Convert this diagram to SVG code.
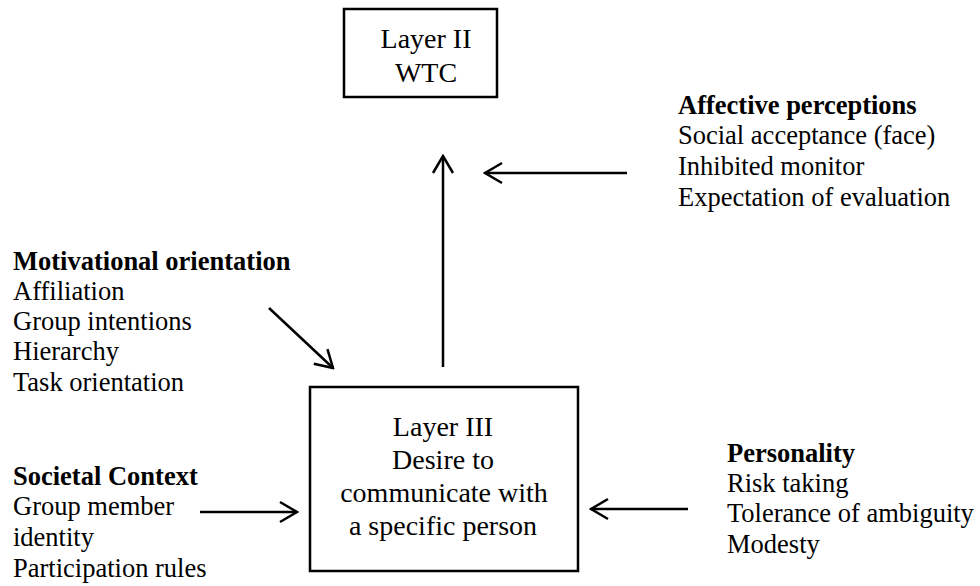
<svg xmlns="http://www.w3.org/2000/svg" width="980" height="586" viewBox="0 0 980 586">
<style>
text{font-family:"Liberation Serif","Times New Roman",serif;fill:#000}
.t{font-size:26.5px}
.b{font-size:26.5px;font-weight:bold}
.bx{font-size:28px;text-anchor:middle}
.box{fill:#fff;stroke:#000;stroke-width:2.5}
.c{stroke:#000;stroke-width:2.5;fill:none}
</style>
<defs>
<marker id="ah" viewBox="0 0 20 24" refX="18" refY="12" markerWidth="20" markerHeight="24" markerUnits="userSpaceOnUse" orient="auto">
<path d="M1,2 L18,12 L1,22" fill="none" stroke="#000" stroke-width="2.5"/>
</marker>
</defs>
<rect width="980" height="586" fill="#fff"/>
<g id="layer2">
<rect class="box" x="344" y="9" width="153" height="88"/>
<text class="bx" x="426" y="48">Layer II</text>
<text class="bx" x="426" y="82">WTC</text>
</g>
<g id="layer3">
<rect class="box" x="310" y="387" width="268" height="184"/>
<text class="bx" x="443" y="436">Layer III</text>
<text class="bx" x="443" y="469">Desire to</text>
<text class="bx" x="444" y="502">communicate with</text>
<text class="bx" x="443" y="535">a specific person</text>
</g>
<g id="affective">
<text class="b" x="678" y="114">Affective perceptions</text>
<text class="t" x="678" y="144">Social acceptance (face)</text>
<text class="t" x="678" y="175">Inhibited monitor</text>
<text class="t" x="678" y="206">Expectation of evaluation</text>
</g>
<g id="motivational">
<text class="b" x="13" y="270">Motivational orientation</text>
<text class="t" x="13" y="300">Affiliation</text>
<text class="t" x="13" y="330">Group intentions</text>
<text class="t" x="13" y="360">Hierarchy</text>
<text class="t" x="13" y="391">Task orientation</text>
</g>
<g id="societal">
<text class="b" x="13" y="485">Societal Context</text>
<text class="t" x="13" y="515">Group member</text>
<text class="t" x="13" y="546">identity</text>
<text class="t" x="13" y="577">Participation rules</text>
</g>
<g id="personality">
<text class="b" x="727" y="462">Personality</text>
<text class="t" x="727" y="492">Risk taking</text>
<text class="t" x="727" y="522">Tolerance of ambiguity</text>
<text class="t" x="727" y="553">Modesty</text>
</g>
<g id="connectors">
<line class="c" x1="443" y1="367" x2="443" y2="156" marker-end="url(#ah)"/>
<line class="c" x1="627" y1="173" x2="485" y2="173" marker-end="url(#ah)"/>
<line class="c" x1="269" y1="308" x2="333" y2="368" marker-end="url(#ah)"/>
<line class="c" x1="200" y1="512" x2="297" y2="512" marker-end="url(#ah)"/>
<line class="c" x1="688" y1="509" x2="591" y2="509" marker-end="url(#ah)"/>
</g>
</svg>
